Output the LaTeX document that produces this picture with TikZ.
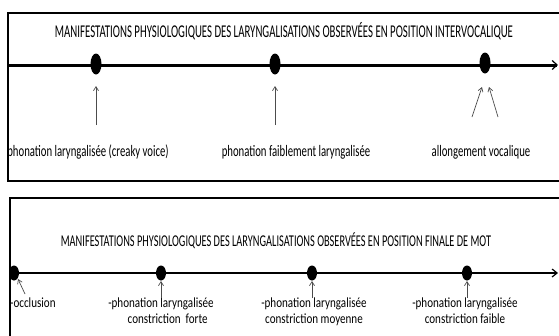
\documentclass[tikz,border=0pt]{standalone}
\usepackage{fontspec}
\setmainfont{Carlito}
\usetikzlibrary{arrows.meta,shapes.geometric}
\begin{document}
\begin{tikzpicture}[x=1pt,y=-1pt,
  frame/.style={line width=2.6pt,black},
  axis/.style={line width=3pt,-{Straight Barb[length=5pt,width=9pt,line width=1.2pt]}},
  axis2/.style={line width=1.6pt,-{Straight Barb[length=5pt,width=8pt,line width=1.2pt]}},
  dot/.style={ellipse,fill=black,inner sep=0pt,minimum width=11pt,minimum height=21pt},
  dotb/.style={ellipse,fill=black,inner sep=0pt,minimum width=10pt,minimum height=15pt},
  ptr/.style={draw=black!70,line width=0.7pt,-{Straight Barb[length=4pt,width=5pt]}},
  ttl/.style={font=\fontsize{18}{20}\selectfont,inner sep=0pt,xscale=0.6,anchor=base},
  ttlb/.style={font=\fontsize{16.5}{18}\selectfont,inner sep=0pt,xscale=0.627,anchor=base},
  lbl/.style={font=\fontsize{16}{18}\selectfont,inner sep=0pt,xscale=0.67,anchor=base},
  lbl2/.style={font=\fontsize{14}{16}\selectfont,inner sep=0pt,xscale=0.79,align=center,anchor=north}]
\useasboundingbox (0,0) rectangle (559,335);
\fill[white] (0,0) rectangle (559,335);
\begin{scope}
\clip (0,0) rectangle (559,335);
% top panel
\draw[frame] (8,13) rectangle (575,181);
\node[ttl] (t1) at (284,37) {MANIFESTATIONS PHYSIOLOGIQUES DES LARYNGALISATIONS OBSERVÉES EN POSITION INTERVOCALIQUE};
\coordinate (a1s) at (8,65);
\coordinate (a1e) at (558,65);
\draw[axis] (a1s) -- (a1e);
\node[dot] (d1) at (96,64) {};
\node[dot] (d2) at (275,64) {};
\node[dot] (d3) at (485,63) {};
\node[lbl] (l1) at (88,156) {phonation laryngalisée (creaky voice)};
\node[lbl] (l2) at (296,156) {phonation faiblement laryngalisée};
\node[lbl] (l3) at (481,156) {allongement vocalique};
\coordinate (p1) at (96,125);
\coordinate (p2) at (275,125);
\coordinate (p3a) at (472,117);
\coordinate (p3b) at (498,117);
\draw[ptr] (p1) -- (96,86);
\draw[ptr] (p2) -- (275,86);
\draw[ptr] (p3a) -- (482,87);
\draw[ptr] (p3b) -- (489,87);
% bottom panel
\draw[frame] (10,198) rectangle (575,345);
\node[ttlb] (t2) at (276,246) {MANIFESTATIONS PHYSIOLOGIQUES DES LARYNGALISATIONS OBSERVÉES EN POSITION FINALE DE MOT};
\coordinate (a2s) at (10,273);
\coordinate (a2e) at (558,273);
\draw[axis2] (a2s) -- (a2e);
\node[dotb] (e1) at (14,273) {};
\node[dotb] (e2) at (161,273) {};
\node[dotb] (e3) at (312,273) {};
\node[dotb] (e4) at (467,273) {};
\node[lbl2,anchor=north west] (m1) at (10,298) {-occlusion};
\node[lbl2] (m2) at (161,298) {-phonation laryngalisée\\\hspace*{1.2em}constriction\ \ forte};
\node[lbl2] (m3) at (314,298) {-phonation laryngalisée\\constriction moyenne};
\node[lbl2] (m4) at (465,298) {-phonation laryngalisée\\constriction faible};
\coordinate (q1) at (25,294);
\draw[ptr] (q1) -- (18,279);
\draw[ptr] (m2.north -| e2) -- (161,281);
\draw[ptr] (m3.north -| e3) -- (312,281);
\draw[ptr] (m4.north -| e4) -- (467,281);
\end{scope}
\end{tikzpicture}
\end{document}
